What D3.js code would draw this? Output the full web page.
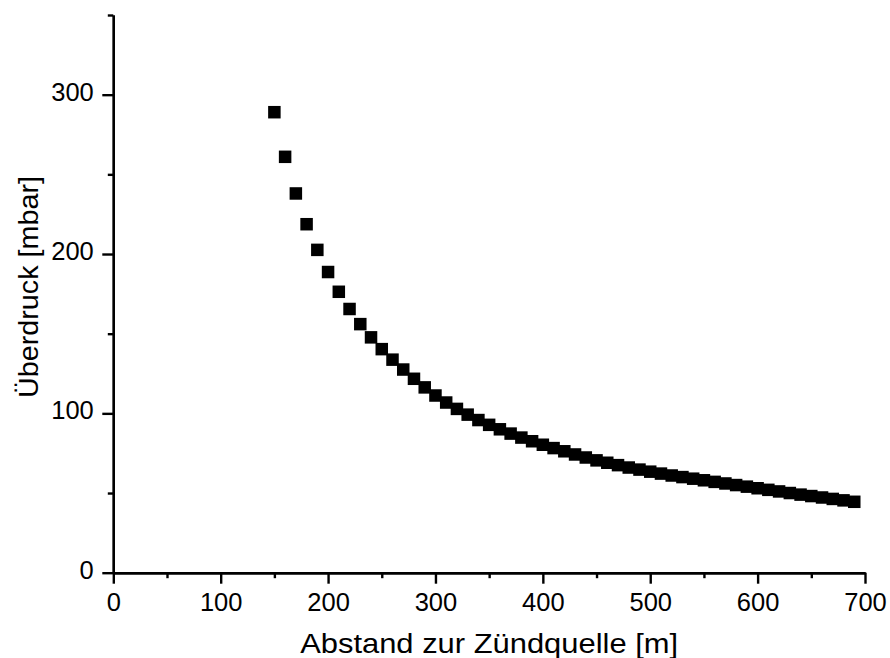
<!DOCTYPE html>
<html>
<head>
<meta charset="utf-8">
<script src="https://cdn.jsdelivr.net/npm/d3@7"></script>
<style>
  html, body { margin: 0; padding: 0; background: #fff; }
  svg { display: block; }
  text { font-family: "Liberation Sans", Arial, sans-serif; fill: #000; }
</style>
</head>
<body>
<svg id="chart" width="890" height="658"></svg>
<script>
// Distance from the ignition source [m]
const distance = [
  150, 160, 170, 180, 190, 200, 210, 220, 230, 240,
  250, 260, 270, 280, 290, 300, 310, 320, 330, 340,
  350, 360, 370, 380, 390, 400, 410, 420, 430, 440,
  450, 460, 470, 480, 490, 500, 510, 520, 530, 540,
  550, 560, 570, 580, 590, 600, 610, 620, 630, 640,
  650, 660, 670, 680, 690
];
// Overpressure [mbar]
const overpressure = [
  289, 261, 238, 218.7, 202.6, 188.7, 176.3, 165.5, 156, 147.7,
  140.3, 133.7, 127.5, 121.7, 116.3, 111.2, 106.8, 102.8, 99.2, 95.8,
  92.8, 90, 87.3, 84.8, 82.5, 80.3, 78.2, 76.2, 74.2, 72.3,
  70.5, 69, 67.5, 66, 64.7, 63.4, 62.2, 61, 60, 59,
  58, 57, 56, 55, 54, 53, 52, 51, 50, 49,
  48.1, 47.2, 46.3, 45.4, 44.5
];
const xMajorTicks = [0, 100, 200, 300, 400, 500, 600, 700];
const xMinorTicks = [50, 150, 250, 350, 450, 550, 650];
const yMajorTicks = [0, 100, 200, 300];
const yMinorTicks = [50, 150, 250, 350];
const xTitle = "Abstand zur Zündquelle [m]";
const yTitle = "Überdruck [mbar]";

const svg = d3.select("#chart");
const margin = { left: 113.3, top: 15, right: 25, bottom: 85.3 };
const W = 890, H = 658;

const x = d3.scaleLinear().domain([0, 700]).range([margin.left, W - margin.right]);
const y = d3.scaleLinear().domain([0, 350]).range([H - margin.bottom, margin.top]);

const axisStroke = 2.4;

function styleAxis(g) {
  g.selectAll("path.domain").attr("stroke", "#000").attr("stroke-width", axisStroke);
  g.selectAll(".tick line").attr("stroke", "#000").attr("stroke-width", axisStroke);
  g.selectAll(".tick text").attr("font-size", 25.5).attr("font-family", "Liberation Sans, Arial, sans-serif").attr("fill", "#000");
}

// x axis: minor ticks then labelled major ticks
svg.append("g")
  .attr("transform", `translate(0,${y(0)})`)
  .call(d3.axisBottom(x).tickValues(xMinorTicks).tickSize(5.5).tickSizeOuter(0).tickFormat(""))
  .call(styleAxis);
svg.append("g")
  .attr("transform", `translate(0,${y(0)})`)
  .call(d3.axisBottom(x).tickValues(xMajorTicks).tickSize(11).tickSizeOuter(0).tickPadding(9).tickFormat(d3.format("d")))
  .call(styleAxis);

// y axis
svg.append("g")
  .attr("transform", `translate(${x(0)},0)`)
  .call(d3.axisLeft(y).tickValues(yMinorTicks).tickSize(5.5).tickSizeOuter(0).tickFormat(""))
  .call(styleAxis);
const gy = svg.append("g")
  .attr("transform", `translate(${x(0)},0)`)
  .call(d3.axisLeft(y).tickValues(yMajorTicks).tickSize(11).tickSizeOuter(0).tickPadding(8.5).tickFormat(d3.format("d")))
  .call(styleAxis);
gy.selectAll(".tick text").attr("dy", "0.22em");

// data markers
const size = 12.5;
svg.append("g")
  .selectAll("rect")
  .data(distance.map((d, i) => [d, overpressure[i]]))
  .join("rect")
  .attr("x", d => x(d[0]) - size / 2)
  .attr("y", d => y(d[1]) - size / 2)
  .attr("width", size)
  .attr("height", size)
  .attr("fill", "#000");

// axis titles
svg.append("text")
  .attr("x", (x(0) + x(700)) / 2)
  .attr("y", 653)
  .attr("text-anchor", "middle")
  .attr("font-size", 27.5)
  .attr("textLength", 378)
  .attr("lengthAdjust", "spacingAndGlyphs")
  .text(xTitle);

svg.append("text")
  .attr("transform", `translate(37.5,287) rotate(-90)`)
  .attr("text-anchor", "middle")
  .attr("font-size", 27.5)
  .attr("textLength", 222)
  .attr("lengthAdjust", "spacingAndGlyphs")
  .text(yTitle);
</script>
</body>
</html>
